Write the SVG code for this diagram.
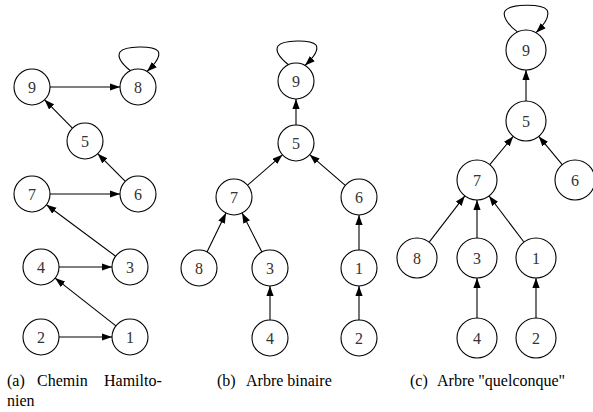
<svg xmlns="http://www.w3.org/2000/svg" width="593" height="412" viewBox="0 0 593 412">
<style>
.n circle{fill:#fff;stroke:#000;stroke-width:1.1}
.n text{font-family:"Liberation Serif","Times New Roman",serif;font-size:16px;fill:#333;text-anchor:middle}
.e path{fill:none;stroke:#000;stroke-width:1.1;marker-end:url(#ah)}
.cap{font-family:"Liberation Serif","Times New Roman",serif;font-size:16px;fill:#000}
</style>
<defs>
<marker id="ah" markerUnits="userSpaceOnUse" markerWidth="11" markerHeight="8" refX="10" refY="3.6" orient="auto">
<path d="M0,0 L10,3.6 L0,7.2 z" fill="#000"/>
</marker>
</defs>
<rect width="593" height="412" fill="#fff"/>
<g id="connectors" class="e">
<!-- panel a -->
<path d="M59,337 L112,337"/>
<path d="M115.9,325.9 L55.1,278.1"/>
<path d="M59,267 L112,267"/>
<path d="M115.6,256.2 L46.4,204.8"/>
<path d="M50,194 L120,194"/>
<path d="M125.3,181.3 L97.7,153.7"/>
<path d="M72.4,128.2 L44.6,99.8"/>
<path d="M50,87 L120,87"/>
<path d="M130.4,70.7 C122,64 117,57 120,52 C125,45.5 153,45.5 158,51 C161,56 155,64 147,71.4"/>
<!-- panel b -->
<path d="M270,320 L270,286"/>
<path d="M261.9,251.9 L242.1,213.1"/>
<path d="M207,251.9 L226,213.1"/>
<path d="M247.6,185.2 L282.4,154.8"/>
<path d="M359,320 L359,286"/>
<path d="M359,250 L359,215"/>
<path d="M345.3,185.3 L309.7,154.7"/>
<path d="M296,125 L296,99"/>
<path d="M288.4,64.7 C280,58 275,51 278,46 C283,39.5 311,39.5 316,45 C319,50 313,58 305,65.4"/>
<!-- panel c -->
<path d="M477,318 L477,278"/>
<path d="M536,318 L536,278"/>
<path d="M429.2,242.1 L464.8,195.9"/>
<path d="M477,238 L477,200"/>
<path d="M523.9,242 L489.1,196"/>
<path d="M489.8,164.6 L513.2,136.4"/>
<path d="M562.2,164.6 L538.8,136.4"/>
<path d="M526,101 L526,70"/>
<path d="M517.5,31.9 C508,25 502,16 505,11 C510,3.5 542,3.5 547,10 C550,16 544,25 536,32.7"/>
</g>
<!-- panel a nodes -->
<g id="a9" class="n"><circle cx="32" cy="87" r="18"/><text x="32" y="92.5">9</text></g>
<g id="a8" class="n"><circle cx="138" cy="87" r="18"/><text x="138" y="92.5">8</text></g>
<g id="a5" class="n"><circle cx="85" cy="141" r="18"/><text x="85" y="146.5">5</text></g>
<g id="a7" class="n"><circle cx="32" cy="194" r="18"/><text x="32" y="199.5">7</text></g>
<g id="a6" class="n"><circle cx="138" cy="194" r="18"/><text x="138" y="199.5">6</text></g>
<g id="a4" class="n"><circle cx="41" cy="267" r="18"/><text x="41" y="272.5">4</text></g>
<g id="a3" class="n"><circle cx="130" cy="267" r="18"/><text x="130" y="272.5">3</text></g>
<g id="a2" class="n"><circle cx="41" cy="337" r="18"/><text x="41" y="342.5">2</text></g>
<g id="a1" class="n"><circle cx="130" cy="337" r="18"/><text x="130" y="342.5">1</text></g>
<!-- panel b nodes -->
<g id="b9" class="n"><circle cx="296" cy="81" r="18"/><text x="296" y="86.5">9</text></g>
<g id="b5" class="n"><circle cx="296" cy="143" r="18"/><text x="296" y="148.5">5</text></g>
<g id="b7" class="n"><circle cx="234" cy="197" r="18"/><text x="234" y="202.5">7</text></g>
<g id="b6" class="n"><circle cx="359" cy="197" r="18"/><text x="359" y="202.5">6</text></g>
<g id="b8" class="n"><circle cx="199" cy="268" r="18"/><text x="199" y="273.5">8</text></g>
<g id="b3" class="n"><circle cx="270" cy="268" r="18"/><text x="270" y="273.5">3</text></g>
<g id="b1" class="n"><circle cx="359" cy="268" r="18"/><text x="359" y="273.5">1</text></g>
<g id="b4" class="n"><circle cx="270" cy="338" r="18"/><text x="270" y="343.5">4</text></g>
<g id="b2" class="n"><circle cx="359" cy="338" r="18"/><text x="359" y="343.5">2</text></g>
<!-- panel c nodes -->
<g id="c9" class="n"><circle cx="526" cy="50" r="20"/><text x="526" y="55.5">9</text></g>
<g id="c5" class="n"><circle cx="526" cy="121" r="20"/><text x="526" y="126.5">5</text></g>
<g id="c7" class="n"><circle cx="477" cy="180" r="20"/><text x="477" y="185.5">7</text></g>
<g id="c6" class="n"><circle cx="575" cy="180" r="20"/><text x="575" y="185.5">6</text></g>
<g id="c8" class="n"><circle cx="417" cy="258" r="20"/><text x="417" y="263.5">8</text></g>
<g id="c3" class="n"><circle cx="477" cy="258" r="20"/><text x="477" y="263.5">3</text></g>
<g id="c1" class="n"><circle cx="536" cy="258" r="20"/><text x="536" y="263.5">1</text></g>
<g id="c4" class="n"><circle cx="477" cy="338" r="20"/><text x="477" y="343.5">4</text></g>
<g id="c2" class="n"><circle cx="536" cy="338" r="20"/><text x="536" y="343.5">2</text></g>
<g id="captions">
<text class="cap" y="386"><tspan x="7">(a)</tspan><tspan x="37">Chemin</tspan><tspan x="104">Hamilto-</tspan></text>
<text class="cap" x="7" y="406">nien</text>
<text class="cap" y="386"><tspan x="217">(b)</tspan><tspan x="246">Arbre binaire</tspan></text>
<text class="cap" y="386"><tspan x="410">(c)</tspan><tspan x="437">Arbre "quelconque"</tspan></text>
</g>
</svg>
